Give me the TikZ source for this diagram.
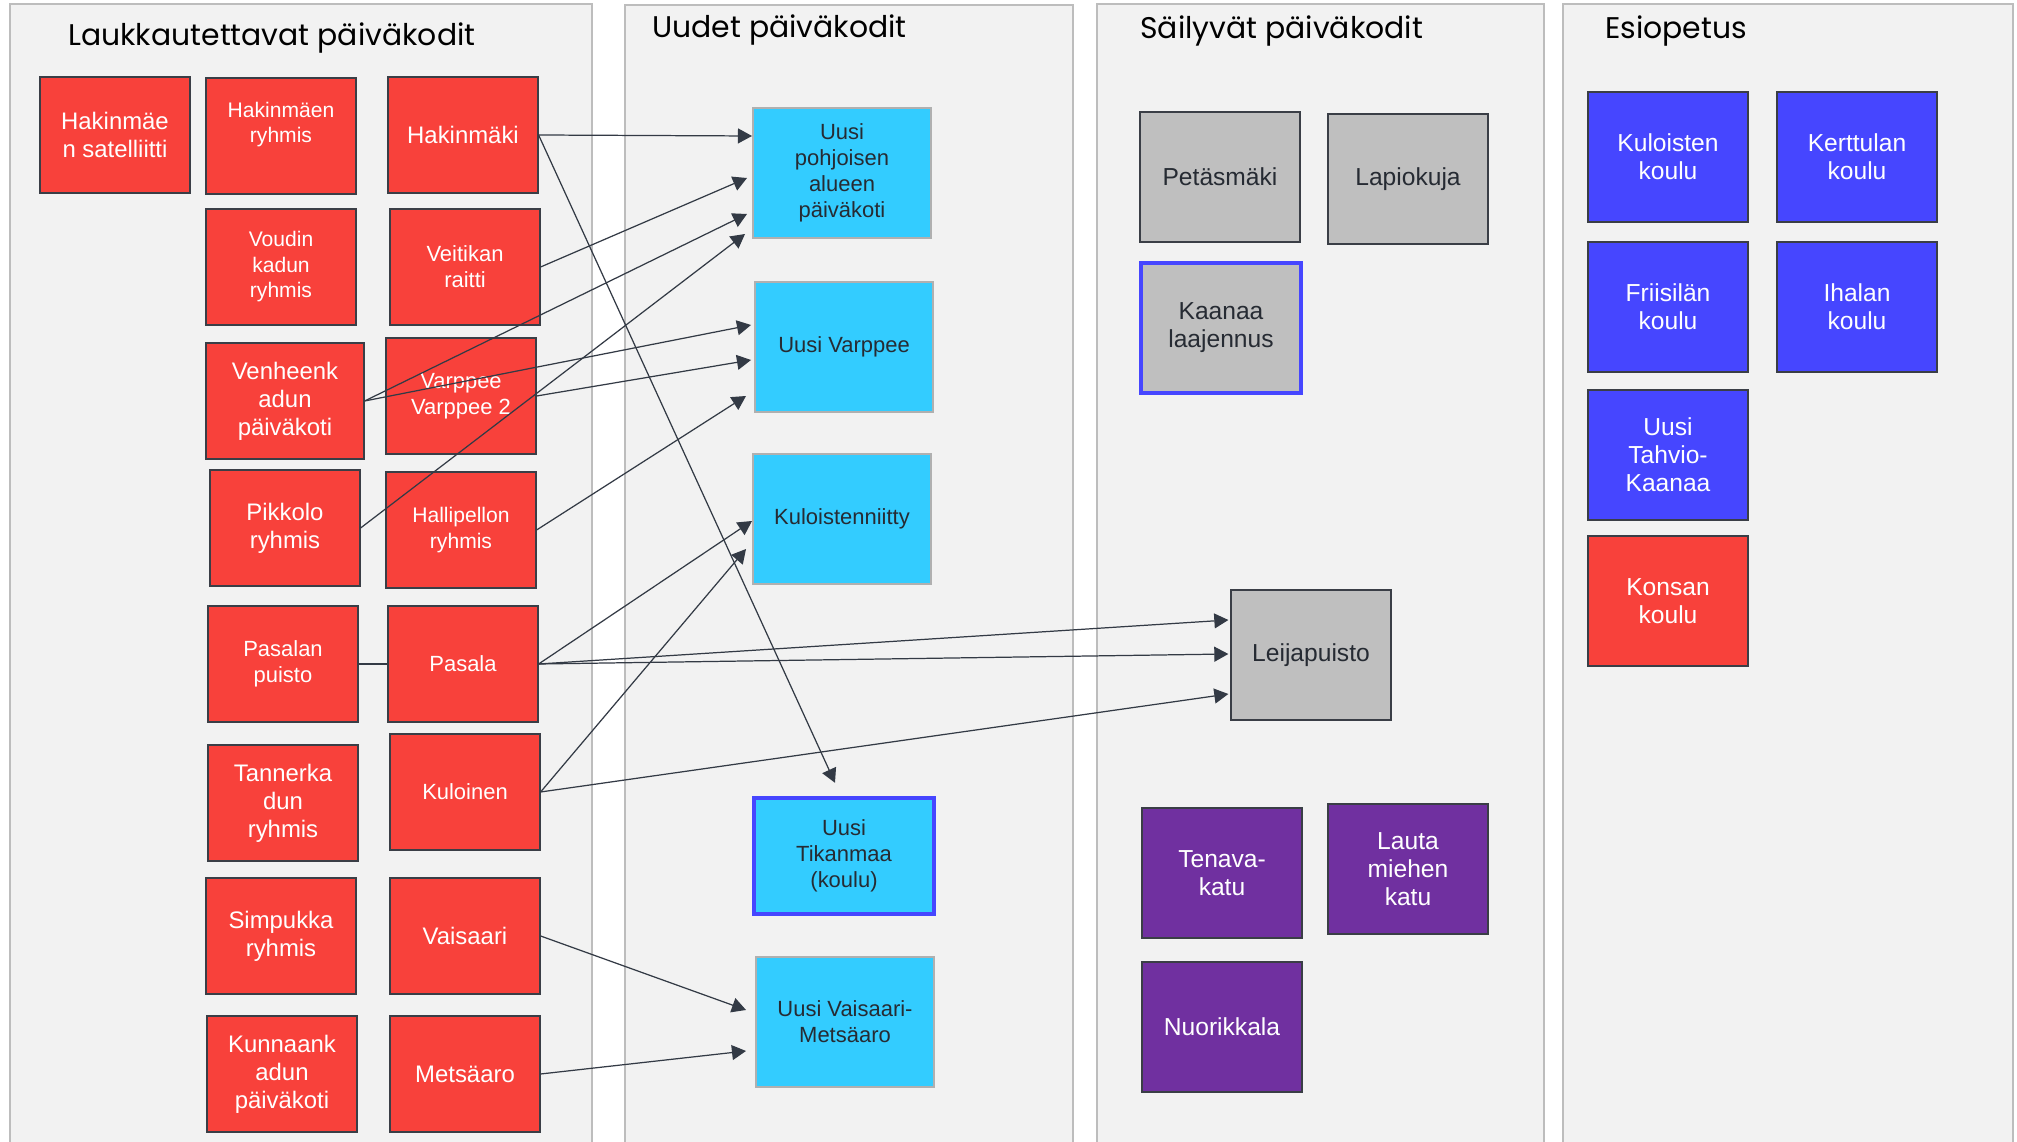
\documentclass[tikz,border=0pt]{standalone}
\usepackage{fontspec}
\setmainfont{Liberation Sans}
\newfontfamily\headfont{Poppins}
\usetikzlibrary{arrows.meta,calc}

\definecolor{panelfill}{HTML}{F2F2F2}
\definecolor{panelline}{HTML}{BDBDBD}
\definecolor{boxline}{HTML}{3A3E46}
\definecolor{redfill}{HTML}{F8413B}
\definecolor{cyanfill}{HTML}{33CCFF}
\definecolor{cyanline}{HTML}{B0B0B0}
\definecolor{grayfill}{HTML}{BFBFBF}
\definecolor{purplefill}{HTML}{7030A0}
\definecolor{bluefill}{HTML}{4646FF}
\definecolor{linkcol}{HTML}{333A45}
\definecolor{darktext}{HTML}{262B33}

\begin{document}
\begin{tikzpicture}[scale=0.2]
\tikzstyle{every node}+=[inner sep=0pt, align=center]
\tikzstyle{panel}=[fill=panelfill, draw=panelline, line width=1.2pt]
\tikzstyle{box}=[draw=boxline, line width=0.7pt, minimum width=3cm, minimum height=2.32cm, text=white]
\tikzstyle{redbox}=[box, fill=redfill]
\tikzstyle{cyanbox}=[box, fill=cyanfill, draw=cyanline, line width=1.1pt, text=darktext, minimum width=3.56cm, minimum height=2.6cm]
\tikzstyle{graybox}=[box, fill=grayfill, text=darktext, minimum width=3.2cm, minimum height=2.6cm]
\tikzstyle{purplebox}=[box, fill=purplefill, minimum width=3.2cm, minimum height=2.6cm]
\tikzstyle{bluebox}=[box, fill=bluefill, minimum width=3.2cm, minimum height=2.6cm]
\tikzstyle{marked}=[draw=bluefill, line width=2.5pt]
\tikzstyle{txtL}=[font=\fontsize{13.6pt}{16pt}\selectfont]
\tikzstyle{txtM}=[font=\fontsize{12.5pt}{14.8pt}\selectfont]
\tikzstyle{txtS}=[font=\fontsize{12pt}{14.5pt}\selectfont]
\tikzstyle{txtW}=[font=\fontsize{14pt}{16pt}\selectfont]
\tikzstyle{head}=[anchor=base west, font=\headfont\fontsize{17pt}{20pt}\selectfont, text=black]
\tikzstyle{link}=[draw=linkcol, line width=0.7pt, -{Triangle[length=8pt,width=8.5pt]}]

\useasboundingbox (0,0) rectangle (201.7,-114.2);
\fill [white] (0,0) rectangle (201.7,-114.2);
\clip (0,0) rectangle (201.7,-114.2);

% panels
\draw [panel] (1.0,-0.4) rectangle (59.2,-116);
\draw [panel] (62.5,-0.5) rectangle (107.3,-116);
\draw [panel] (109.7,-0.4) rectangle (154.4,-116);
\draw [panel] (156.3,-0.4) rectangle (201.3,-116);
\node [head] (h1) at (6.8,-4.6) {Laukkautettavat päiväkodit};
\node [head] (h2) at (65.2,-3.8) {Uudet päiväkodit};
\node [head] (h3) at (114.0,-3.9) {Säilyvät päiväkodit};
\node [head] (h4) at (160.5,-3.9) {Esiopetus};

% closing units
\node [redbox, txtL] (sat) at (11.5,-13.5) {Hakinmäe\\n satelliitti};
\node [redbox, txtS] (hryh) at (28.1,-13.6) {\raisebox{24pt}{\begin{tabular}{@{}c@{}}Hakinmäen\\ryhmis\end{tabular}}};
\node [redbox, txtL] (hak) at (46.3,-13.5) {Hakinmäki};
\node [redbox, txtS] (voud) at (28.1,-26.7) {Voudin\\kadun\\ryhmis};
\node [redbox, txtM] (veit) at (46.5,-26.7) {Veitikan\\raitti};
\node [redbox, txtL, minimum width=3.16cm] (venh) at (28.5,-40.1) {Venheenk\\adun\\päiväkoti};
\node [redbox, txtM] (varp) at (46.1,-39.6) {Varppee\\Varppee 2};
\node [redbox, txtL] (pikk) at (28.5,-52.8) {Pikkolo\\ryhmis};
\node [redbox, txtS] (hall) at (46.1,-53.0) {Hallipellon\\ryhmis};
\node [redbox, txtM] (paspu) at (28.3,-66.4) {Pasalan\\puisto};
\node [redbox, txtM] (pas) at (46.3,-66.4) {Pasala};
\node [redbox, txtL] (tann) at (28.3,-80.3) {Tannerka\\dun\\ryhmis};
\node [redbox, txtM] (kul) at (46.5,-79.2) {Kuloinen};
\node [redbox, txtL] (simp) at (28.1,-93.6) {Simpukka\\ryhmis};
\node [redbox, txtL] (vais) at (46.5,-93.6) {Vaisaari};
\node [redbox, txtL] (kunn) at (28.2,-107.4) {Kunnaank\\adun\\päiväkoti};
\node [redbox, txtL] (mets) at (46.5,-107.4) {Metsäaro};

% new units
\node [cyanbox, txtM] (pohj) at (84.2,-17.3) {Uusi\\pohjoisen\\alueen\\päiväkoti};
\node [cyanbox, txtM] (uvarp) at (84.4,-34.7) {Uusi Varppee};
\node [cyanbox, txtM] (kniit) at (84.2,-51.9) {Kuloistenniitty};
\node [cyanbox, txtM, marked, minimum width=3.6cm, minimum height=2.32cm] (tik) at (84.4,-85.6) {Uusi\\Tikanmaa\\(koulu)};
\node [cyanbox, txtM] (uvais) at (84.5,-102.2) {Uusi Vaisaari-\\Metsäaro};

% kept units
\node [graybox, txtW] (pet) at (122.0,-17.7) {Petäsmäki};
\node [graybox, txtW] (lap) at (140.8,-17.9) {Lapiokuja};
\node [graybox, txtW, marked] (kaan) at (122.1,-32.8) {Kaanaa\\laajennus};
\node [graybox, txtW] (leija) at (131.1,-65.5) {Leijapuisto};
\node [purplebox, txtW] (ten) at (122.2,-87.3) {Tenava-\\katu};
\node [purplebox, txtW] (laut) at (140.8,-86.9) {Lauta\\miehen\\katu};
\node [purplebox, txtW] (nuor) at (122.2,-102.7) {Nuorikkala};

% preschool
\node [bluebox, txtW] (kuls) at (166.8,-15.7) {Kuloisten\\koulu};
\node [bluebox, txtW] (kert) at (185.7,-15.7) {Kerttulan\\koulu};
\node [bluebox, txtW] (frii) at (166.8,-30.7) {Friisilän\\koulu};
\node [bluebox, txtW] (ihal) at (185.7,-30.7) {Ihalan\\koulu};
\node [bluebox, txtW] (tahv) at (166.8,-45.5) {Uusi\\Tahvio-\\Kaanaa};
\node [redbox, txtW, minimum width=3.2cm, minimum height=2.6cm] (kons) at (166.8,-60.1) {Konsan\\koulu};

% links
\draw [link] (hak.east) -- ($(pohj.west)+(0,3.7)$);
\draw [link] (veit.east) -- ($(pohj.west)+(-0.5,-0.5)$);
\draw [link] (venh.east) -- ($(pohj.west)+(-0.5,-4.1)$);
\draw [link] (pikk.east) -- ($(pohj.west)+(-0.7,-6.1)$);
\draw [link] (venh.east) -- ($(uvarp.west)+(-0.3,2.2)$);
\draw [link] (varp.east) -- ($(uvarp.west)+(-0.3,-1.3)$);
\draw [link] (hall.east) -- ($(uvarp.west)+(-0.8,-4.9)$);
\draw [link] (pas.east) -- ($(kniit.west)+(0,-0.2)$);
\draw [link] (kul.east) -- ($(kniit.west)+(-0.6,-3.0)$);
\draw [link] (pas.east) -- ($(leija.west)+(-0.2,3.5)$);
\draw [link] (pas.east) -- ($(leija.west)+(-0.2,0.1)$);
\draw [link] (kul.east) -- ($(leija.west)+(-0.2,-3.9)$);
\draw [link] (vais.east) -- ($(uvais.west)+(-0.9,1.2)$);
\draw [link] (mets.east) -- ($(uvais.west)+(-0.9,-2.9)$);
\draw [link] (hak.east) -- ($(tik.north)+(-0.9,1.3)$);
\draw [draw=linkcol, line width=0.7pt] (paspu.east) -- (pas.west);
\end{tikzpicture}
\end{document}
